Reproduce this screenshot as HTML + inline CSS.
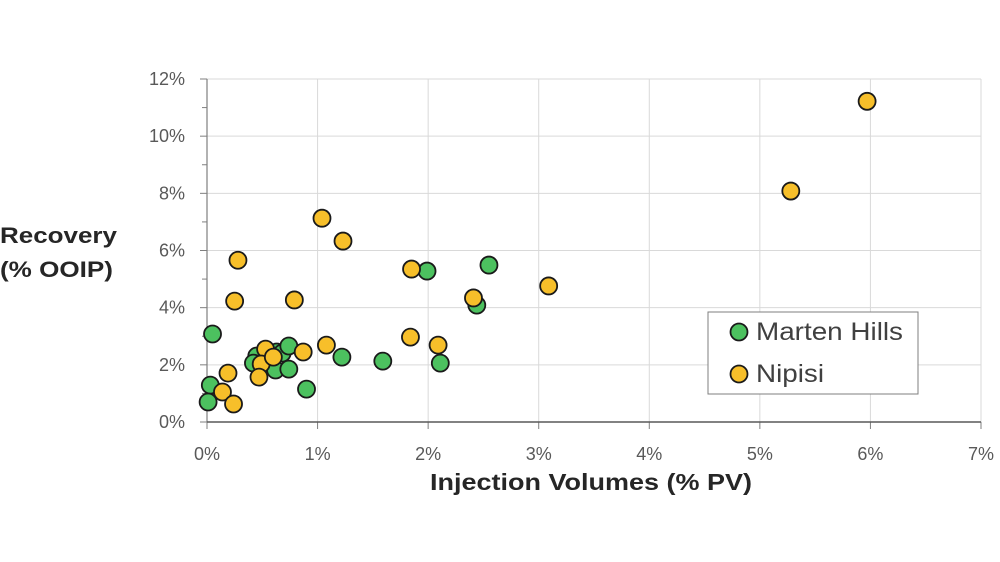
<!DOCTYPE html>
<html><head><meta charset="utf-8"><style>
html,body{margin:0;padding:0;background:#fff;}
svg{display:block;font-family:"Liberation Sans",sans-serif;}
</style></head><body>
<svg id="chart" width="1000" height="562"></svg>
<script>
const xTicks=[0,1,2,3,4,5,6,7];
const yTicks=[0,2,4,6,8,10,12];
const greenX=[0.05,0.03,0.01,0.45,0.42,0.63,0.68,0.74,0.62,0.74,0.90,1.22,1.59,1.99,2.55,2.44,2.11];
const greenY=[3.08,1.29,0.70,2.31,2.06,2.45,2.41,2.66,1.82,1.85,1.15,2.27,2.13,5.28,5.49,4.09,2.06];
const yellowX=[0.19,0.14,0.24,0.53,0.49,0.47,0.60,0.87,1.08,1.04,1.23,0.28,0.25,0.79,1.85,1.84,2.09,2.41,3.09,5.28,5.97];
const yellowY=[1.71,1.05,0.63,2.55,2.03,1.57,2.27,2.45,2.69,7.13,6.33,5.66,4.23,4.27,5.35,2.97,2.69,4.34,4.76,8.08,11.22];

const NS="http://www.w3.org/2000/svg";
const svg=document.getElementById('chart');
const X0=207,X1=981,Y0=422,Y1=79;
const sx=v=>X0+(v-0)/(7-0)*(X1-X0);
const sy=v=>Y0-(v-0)/(12-0)*(Y0-Y1);
function mk(t,a,txt){const e=document.createElementNS(NS,t);for(const k in a)e.setAttribute(k,a[k]);if(txt!==undefined)e.textContent=txt;svg.appendChild(e);return e;}

yTicks.forEach(v=>{
  const g=mk('line',{x1:X0,x2:X1,y1:sy(v),y2:sy(v),stroke:'#d9d9d9','stroke-width':1});
  
  
  const t=mk('text',{x:185,y:sy(v)+6,'text-anchor':'end','font-size':18,fill:'#595959'},v+'%');
  
  
  const tk=mk('line',{x1:X0-7,x2:X0,y1:sy(v),y2:sy(v),stroke:'#7f7f7f','stroke-width':1});
  
  
});
for(let v=1;v<12;v+=2){
  const tk=mk('line',{x1:X0-5,x2:X0,y1:sy(v),y2:sy(v),stroke:'#7f7f7f','stroke-width':1});
  
  
}
xTicks.forEach(v=>{
  if(v>0){const g=mk('line',{x1:sx(v),x2:sx(v),y1:Y0,y2:Y1,stroke:'#d9d9d9','stroke-width':1});
  
  }
  const tk=mk('line',{x1:sx(v),x2:sx(v),y1:Y0,y2:Y0+7,stroke:'#7f7f7f','stroke-width':1});
  
  
  const t=mk('text',{x:sx(v),y:460,'text-anchor':'middle','font-size':18,fill:'#595959'},v+'%');
  
  
});
const ax=mk('line',{x1:X0,x2:X0,y1:Y1,y2:Y0,stroke:'#7f7f7f','stroke-width':1.2});


const axx=mk('line',{x1:X0,x2:X1,y1:Y0,y2:Y0,stroke:'#595959','stroke-width':1.5});



const xt=mk('text',{x:430,y:490,'font-size':23,'font-weight':'bold',fill:'#262626',textLength:322,lengthAdjust:'spacingAndGlyphs'},'Injection Volumes (% PV)');


const yt1=mk('text',{x:0,y:243,'font-size':22,'font-weight':'bold',fill:'#262626',textLength:117,lengthAdjust:'spacingAndGlyphs'},'Recovery');


const yt2=mk('text',{x:0,y:277,'font-size':22,'font-weight':'bold',fill:'#262626',textLength:113,lengthAdjust:'spacingAndGlyphs'},'(% OOIP)');



greenX.forEach((v,i)=>{
  const c=mk('circle',{cx:sx(v),cy:sy(greenY[i]),r:8.5,fill:'#4cc15f',stroke:'#1a1a1a','stroke-width':1.8});
  
  
});
yellowX.forEach((v,i)=>{
  const c=mk('circle',{cx:sx(v),cy:sy(yellowY[i]),r:8.5,fill:'#f7bf2a',stroke:'#1a1a1a','stroke-width':1.8});
  
  
});

const lb=mk('rect',{x:708,y:312,width:210,height:82,fill:'#fff',stroke:'#7f7f7f','stroke-width':1});


const l1=mk('circle',{cx:739,cy:332,r:8.5,fill:'#4cc15f',stroke:'#1a1a1a','stroke-width':1.8});


const t1=mk('text',{x:756,y:340,'font-size':25,fill:'#404040',textLength:147,lengthAdjust:'spacingAndGlyphs'},'Marten Hills');


const l2=mk('circle',{cx:739,cy:374,r:8.5,fill:'#f7bf2a',stroke:'#1a1a1a','stroke-width':1.8});


const t2=mk('text',{x:756,y:382,'font-size':25,fill:'#404040',textLength:68,lengthAdjust:'spacingAndGlyphs'},'Nipisi');


</script>
</body></html>
